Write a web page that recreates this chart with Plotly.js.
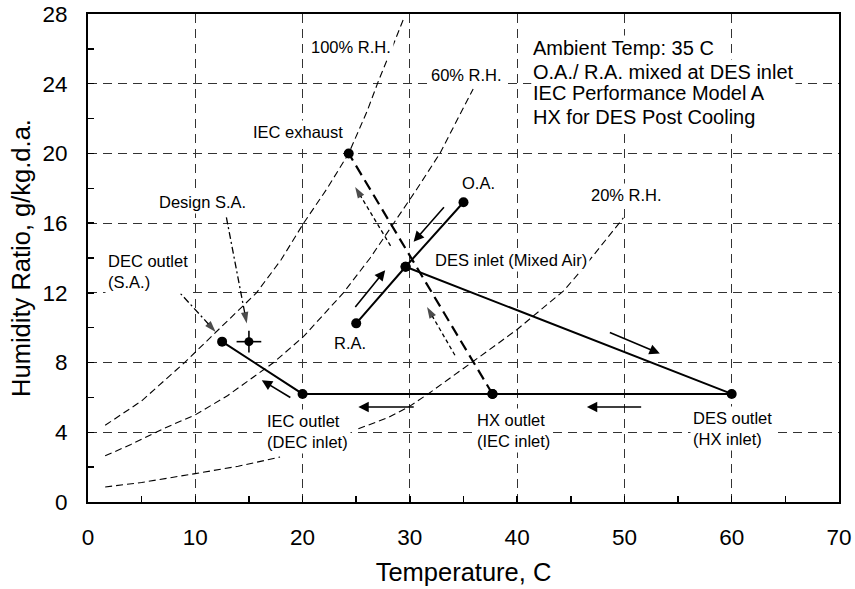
<!DOCTYPE html>
<html>
<head>
<meta charset="utf-8">
<script src="https://cdn.plot.ly/plotly-3.0.1.min.js"></script>
<style>html,body{margin:0;padding:0;background:#fff;}#chart{width:855px;height:589px;}</style>
</head>
<body>
<div id="chart"></div>
<script>
// ---- Data (Temperature C, Humidity ratio g/kg d.a.) ----
// Mixing line: O.A. -> DES inlet -> R.A.
const mixT = [35.0, 29.6, 25.0];
const mixW = [17.2, 13.5, 10.25];
// Process path: DES inlet -> DES outlet -> HX outlet -> IEC outlet -> DEC outlet
const procT = [29.6, 60.0, 37.7, 20.0, 12.5];
const procW = [13.5, 6.2, 6.2, 6.2, 9.2];
// IEC secondary air: HX outlet -> IEC exhaust
const exhT = [37.7, 24.3];
const exhW = [6.2, 20.0];
// Design supply air
const designT = [15.0];
const designW = [9.2];
// Relative humidity curves
const rh100T = [1.6, 5, 9, 12, 15.7, 18, 20.1, 22.3, 24.3, 26, 27.1, 28.3, 29.4];
const rh100W = [4.4, 5.8, 8.0, 9.8, 12.0, 13.9, 16.0, 18.0, 20.0, 22.4, 24.2, 26.0, 27.7];
const rh60T = [1.6, 4, 7, 10, 13, 17.3, 20.1, 23.8, 26.3, 28.5, 30.7, 32.8, 34.5, 35.9];
const rh60W = [2.65, 3.3, 4.2, 5.0, 6.1, 8.0, 9.5, 12.0, 14.0, 16.0, 18.0, 20.0, 22.0, 23.7];
const rh20T = [1.6, 5, 10, 14, 17.9, null, 25.2, 28, 30, 31.7, 33.5, 35.8, 38, 40, 42, 44.3, 46, 47.7, 49.9];
const rh20W = [0.86, 1.12, 1.63, 2.05, 2.58, null, 4.2, 4.85, 5.5, 6.2, 7.0, 8.0, 9.0, 9.9, 10.9, 12.1, 13.3, 14.6, 16.3];
// Flow arrows (tail -> tip)
const arrowTailT = [33.3, 24.8, 48.5, 51.7, 30.5, 19.0, 34.2, 28.2, 12.9, 8.0];
const arrowTailW = [17.0, 11.1, 9.76, 5.45, 5.45, 5.94, 8.42, 14.7, 16.33, 12.38];
const arrowTipT  = [30.35, 27.7, 53.3, 46.5, 25.2, 16.2, 31.6, 24.9, 14.8, 11.9];
const arrowTipW  = [14.93, 13.3, 8.52, 5.45, 5.45, 6.99, 11.19, 18.08, 10.24, 9.76];
const arrowDash  = ['solid','solid','solid','solid','solid','solid','4px,3px','4px,3px','7px,3px,2px,3px','7px,3px,2px,3px'];
// Labels
const labelText = ['100% R.H.', '60% R.H.', '20% R.H.', 'IEC exhaust', 'Design S.A.', 'DEC outlet<br>(S.A.)', 'O.A.', 'DES inlet (Mixed Air)', 'R.A.', 'IEC outlet<br>(DEC inlet)', 'HX outlet<br>(IEC inlet)', 'DES outlet<br>(HX inlet)'];
const labelT = [24.5, 35.3, 50.2, 19.6, 10.7, 1.6, 36.4, 32.1, 24.4, 16.4, 36.0, 56.1];
const labelW = [26.1, 24.5, 17.6, 21.24, 17.22, 13.2, 18.28, 13.88, 9.1, 4.07, 4.12, 4.2];
const labelAnchor = ['center','center','center','center','center','left','center','left','center','left','left','left'];
const noteLines = ['Ambient Temp: 35 C', 'O.A./ R.A. mixed at DES inlet', 'IEC Performance Model A', 'HX for DES Post Cooling'];
const noteT = 41.3;
const noteW = [26.03, 24.68, 23.44, 22.1];

const FONT = 'Liberation Sans, Arial, Helvetica, sans-serif';
const traces = [];
const rhStyle = {color: '#000', width: 1.1, dash: '7px,4px'};
traces.push({x: rh100T, y: rh100W, mode: 'lines', line: rhStyle, hoverinfo: 'skip'});
traces.push({x: rh60T, y: rh60W, mode: 'lines', line: rhStyle, hoverinfo: 'skip'});
traces.push({x: rh20T, y: rh20W, mode: 'lines', line: rhStyle, connectgaps: false, hoverinfo: 'skip'});
traces.push({x: exhT, y: exhW, mode: 'lines+markers', line: {color: '#000', width: 2.2, dash: '11px,6px'}, marker: {size: 10, color: '#000'}});
traces.push({x: mixT, y: mixW, mode: 'lines+markers', line: {color: '#000', width: 2}, marker: {size: 10, color: '#000'}});
traces.push({x: procT, y: procW, mode: 'lines+markers', line: {color: '#000', width: 2}, marker: {size: 10, color: '#000'}});
traces.push({x: designT, y: designW, mode: 'markers', marker: {size: 9, color: '#000'},
  error_x: {type: 'constant', value: 1.15, width: 0, thickness: 1.6, color: '#000'},
  error_y: {type: 'constant', value: 0.62, width: 0, thickness: 1.6, color: '#000'}});

const annotations = [];
for (let i = 0; i < arrowTipT.length; i++) {
  if (arrowDash[i] === 'solid') {
    annotations.push({x: arrowTipT[i], y: arrowTipW[i], ax: arrowTailT[i], ay: arrowTailW[i],
      xref: 'x', yref: 'y', axref: 'x', ayref: 'y', text: '', showarrow: true,
      arrowhead: 2, arrowsize: 1.3, arrowwidth: 1.6, arrowcolor: '#000', standoff: 0});
  } else {
    traces.push({x: [arrowTailT[i], arrowTipT[i]], y: [arrowTailW[i], arrowTipW[i]], mode: 'lines+markers',
      line: {color: '#000', width: 1.3, dash: arrowDash[i]},
      marker: {symbol: 'arrow', angleref: 'previous', size: [0, 12], color: '#000', line: {width: 0}},
      hoverinfo: 'skip'});
  }
}
for (let i = 0; i < labelText.length; i++) {
  annotations.push({x: labelT[i], y: labelW[i], xref: 'x', yref: 'y', text: labelText[i], showarrow: false,
    xanchor: labelAnchor[i], yanchor: 'middle', align: 'left', bgcolor: '#fff', borderpad: 2,
    font: {family: FONT, size: 16.5, color: '#000'}});
}
for (let i = 0; i < noteLines.length; i++) {
  annotations.push({x: noteT, y: noteW[i], xref: 'x', yref: 'y', text: noteLines[i], showarrow: false,
    xanchor: 'left', yanchor: 'middle', align: 'left', bgcolor: '#fff', borderpad: 1,
    font: {family: FONT, size: 20, color: '#000'}});
}

const axisCommon = {
  ticks: 'inside', ticklen: 6, tickwidth: 1.5, tickcolor: '#000',
  showgrid: true, gridcolor: '#333', gridwidth: 1, griddash: '9px,6px',
  showline: true, linecolor: '#000', linewidth: 2, mirror: true, zeroline: false,
  tickfont: {family: FONT, size: 22.5, color: '#000'}
};
const layout = {
  width: 855, height: 589,
  margin: {l: 88, r: 16, t: 14, b: 87},
  paper_bgcolor: '#fff', plot_bgcolor: '#fff',
  showlegend: false,
  font: {family: FONT, color: '#000'},
  xaxis: Object.assign({}, axisCommon, {
    range: [0, 70], tick0: 0, dtick: 10, ticklabelstandoff: 14,
    minor: {dtick: 5, ticks: 'inside', ticklen: 6, tickwidth: 1.5, tickcolor: '#000', showgrid: false},
    title: {text: 'Temperature, C', font: {family: FONT, size: 25.5, color: '#000'}, standoff: 14}
  }),
  yaxis: Object.assign({}, axisCommon, {
    range: [0, 28], tick0: 0, dtick: 4, ticklabelstandoff: 14,
    minor: {dtick: 2, ticks: 'inside', ticklen: 6, tickwidth: 1.5, tickcolor: '#000', showgrid: false},
    title: {text: 'Humidity Ratio, g/kg.d.a.', font: {family: FONT, size: 25.5, color: '#000'}, standoff: 5}
  }),
  annotations: annotations
};
Plotly.newPlot('chart', traces, layout, {staticPlot: true, displayModeBar: false});
</script>
</body>
</html>
